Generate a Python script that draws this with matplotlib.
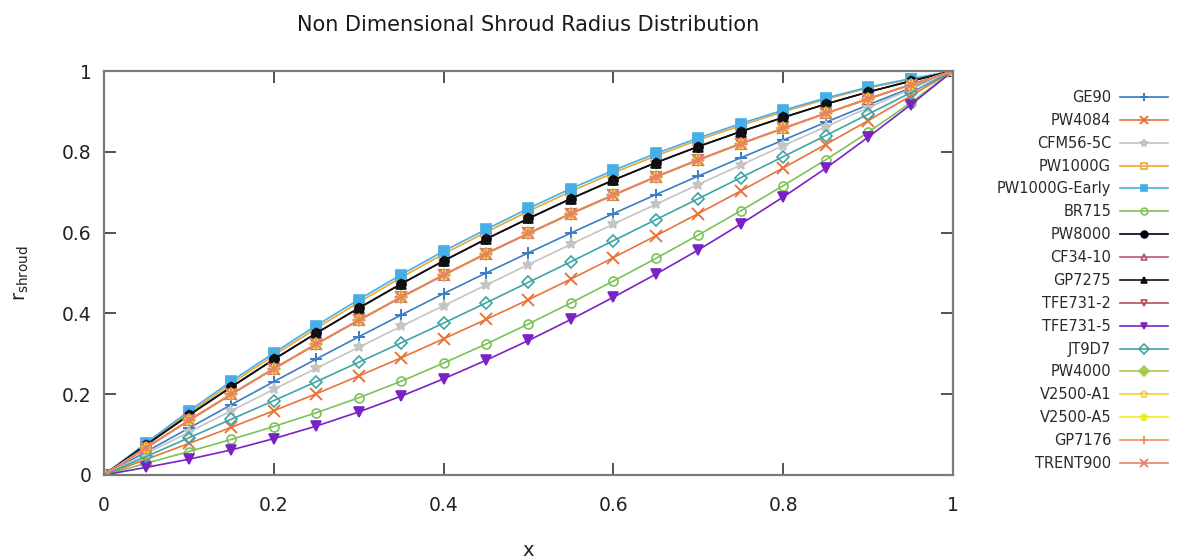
import matplotlib
matplotlib.use('Agg')
import matplotlib.pyplot as plt

## Non-dimensional axial position
x = [0.00, 0.05, 0.10, 0.15, 0.20, 0.25, 0.30, 0.35, 0.40, 0.45, 0.50,
     0.55, 0.60, 0.65, 0.70, 0.75, 0.80, 0.85, 0.90, 0.95, 1.00]

## Shroud radius distributions
ge90 = [0, 0.058, 0.116, 0.174, 0.231, 0.287, 0.342, 0.396, 0.449, 0.500, 0.550,
        0.599, 0.647, 0.694, 0.740, 0.785, 0.829, 0.873, 0.916, 0.958, 1]
pw4084 = [0, 0.039, 0.078, 0.118, 0.159, 0.201, 0.245, 0.290, 0.337, 0.385, 0.434,
          0.485, 0.538, 0.592, 0.647, 0.703, 0.760, 0.818, 0.877, 0.938, 1]
cfm56_5c = [0, 0.053, 0.106, 0.159, 0.212, 0.264, 0.316, 0.368, 0.419, 0.470, 0.521,
            0.571, 0.621, 0.670, 0.719, 0.767, 0.815, 0.862, 0.909, 0.955, 1]
pw1000g = [0, 0.077, 0.153, 0.226, 0.296, 0.363, 0.427, 0.489, 0.547, 0.601, 0.653,
           0.702, 0.748, 0.790, 0.829, 0.865, 0.899, 0.930, 0.958, 0.980, 1]
pw1000g_early = [0, 0.080, 0.158, 0.232, 0.302, 0.370, 0.434, 0.496, 0.554, 0.608, 0.660,
                 0.709, 0.754, 0.796, 0.834, 0.870, 0.903, 0.933, 0.960, 0.981, 1]
br715 = [0, 0.029, 0.058, 0.088, 0.120, 0.154, 0.191, 0.232, 0.277, 0.324, 0.374,
         0.426, 0.480, 0.536, 0.594, 0.654, 0.716, 0.780, 0.848, 0.921, 1]
pw8000 = [0, 0.075, 0.148, 0.218, 0.286, 0.351, 0.413, 0.473, 0.530, 0.584, 0.635,
          0.684, 0.730, 0.773, 0.813, 0.850, 0.885, 0.918, 0.948, 0.975, 1]
cf34_10 = [0, 0.068, 0.135, 0.200, 0.263, 0.324, 0.383, 0.440, 0.495, 0.548, 0.598,
           0.647, 0.693, 0.738, 0.780, 0.820, 0.858, 0.895, 0.931, 0.966, 1]
gp7275 = [0, 0.075, 0.148, 0.218, 0.286, 0.351, 0.413, 0.473, 0.530, 0.584, 0.635,
          0.684, 0.730, 0.773, 0.813, 0.850, 0.885, 0.918, 0.948, 0.975, 1]
tfe731_2 = [0, 0.068, 0.135, 0.200, 0.263, 0.324, 0.383, 0.440, 0.495, 0.548, 0.598,
            0.647, 0.693, 0.738, 0.780, 0.820, 0.858, 0.895, 0.931, 0.966, 1]
tfe731_5 = [0, 0.019, 0.039, 0.062, 0.090, 0.121, 0.156, 0.195, 0.238, 0.284, 0.333,
            0.385, 0.440, 0.497, 0.557, 0.621, 0.688, 0.759, 0.836, 0.916, 1]
jt9d7 = [0, 0.046, 0.092, 0.138, 0.184, 0.231, 0.279, 0.327, 0.376, 0.426, 0.477,
         0.528, 0.580, 0.632, 0.684, 0.736, 0.788, 0.840, 0.893, 0.946, 1]
pw4000 = [0, 0.068, 0.135, 0.200, 0.263, 0.324, 0.383, 0.440, 0.495, 0.548, 0.598,
          0.647, 0.693, 0.738, 0.780, 0.820, 0.858, 0.895, 0.931, 0.966, 1]
v2500_a1 = [0, 0.068, 0.135, 0.200, 0.263, 0.324, 0.383, 0.440, 0.495, 0.548, 0.598,
            0.647, 0.693, 0.738, 0.780, 0.820, 0.858, 0.895, 0.931, 0.966, 1]
v2500_a5 = [0, 0.068, 0.135, 0.200, 0.263, 0.324, 0.383, 0.440, 0.495, 0.548, 0.598,
            0.647, 0.693, 0.738, 0.780, 0.820, 0.858, 0.895, 0.931, 0.966, 1]
gp7176 = [0, 0.068, 0.135, 0.200, 0.263, 0.324, 0.383, 0.440, 0.495, 0.548, 0.598,
          0.647, 0.693, 0.738, 0.780, 0.820, 0.858, 0.895, 0.931, 0.966, 1]
trent900 = [0, 0.068, 0.135, 0.200, 0.263, 0.324, 0.383, 0.440, 0.495, 0.548, 0.598,
            0.647, 0.693, 0.738, 0.780, 0.820, 0.858, 0.895, 0.931, 0.966, 1]

engines = ['GE90', 'PW4084', 'CFM56-5C', 'PW1000G', 'PW1000G-Early', 'BR715',
           'PW8000', 'CF34-10', 'GP7275', 'TFE731-2', 'TFE731-5', 'JT9D7',
           'PW4000', 'V2500-A1', 'V2500-A5', 'GP7176', 'TRENT900']
series = [ge90, pw4084, cfm56_5c, pw1000g, pw1000g_early, br715, pw8000,
          cf34_10, gp7275, tfe731_2, tfe731_5, jt9d7, pw4000, v2500_a1,
          v2500_a5, gp7176, trent900]

# colour, marker, filled
styles = [
    ('#3a7dc4', '+', True),
    ('#e8743b', 'x', True),
    ('#c4c4c4', '*', True),
    ('#eda635', 's', False),
    ('#45b0e8', 's', True),
    ('#7cc257', 'o', False),
    ('#000018', 'o', True),
    ('#b8586e', '^', False),
    ('#111111', '^', True),
    ('#b0505a', 'v', False),
    ('#7a22c6', 'v', True),
    ('#3ea5a5', 'D', False),
    ('#a8c850', 'D', True),
    ('#f0d040', 'p', False),
    ('#eeee20', 'p', True),
    ('#f09060', '+', True),
    ('#e8806a', 'x', True),
]

fig, ax = plt.subplots(figsize=(11.8, 5.6), dpi=100)
fig.subplots_adjust(left=0.0881, right=0.8076, bottom=0.1518, top=0.8732)

for name, r, (c, m, filled) in zip(engines, series, styles):
    big = m in ('+', 'x', '*')
    ax.plot(x, r, color=c, lw=1.2, marker=m,
            ms=8 if big else 6.5,
            mew=1.4 if big else 1.2,
            mfc=c if filled else 'none', mec=c, label=name)

ax.set_xlim(0, 1)
ax.set_ylim(0, 1)
ax.set_xticks([0, 0.2, 0.4, 0.6, 0.8, 1])
ax.set_yticks([0, 0.2, 0.4, 0.6, 0.8, 1])
ax.set_xticklabels(['0', '0.2', '0.4', '0.6', '0.8', '1'])
ax.set_yticklabels(['0', '0.2', '0.4', '0.6', '0.8', '1'])
for s in ax.spines.values():
    s.set_color('#7a7a7a')
    s.set_linewidth(1.6)
ax.tick_params(direction='in', top=True, right=True, length=8.5, width=1.3,
               color='#444444', labelsize=13.5, labelcolor='#222222')
ax.tick_params(axis='x', pad=15)
ax.tick_params(axis='y', pad=9)

ax.set_title('Non Dimensional Shroud Radius Distribution', fontsize=15,
             color='#1a1a1a', pad=29)
ax.set_xlabel('x', fontsize=14, color='#222222', labelpad=19)
ax.set_ylabel(r'r$_{\mathregular{shroud}}$', fontsize=14, color='#222222', labelpad=22)

fig.legend(loc='upper right', bbox_to_anchor=(1168/1180, 1 - 90/560),
           frameon=False, markerfirst=False, numpoints=1, fontsize=10.5,
           handlelength=3.3, handletextpad=0.6, labelspacing=0.54,
           markerscale=0.75, labelcolor='#2a2a2a', borderaxespad=0, borderpad=0)

plt.savefig('out.png')
